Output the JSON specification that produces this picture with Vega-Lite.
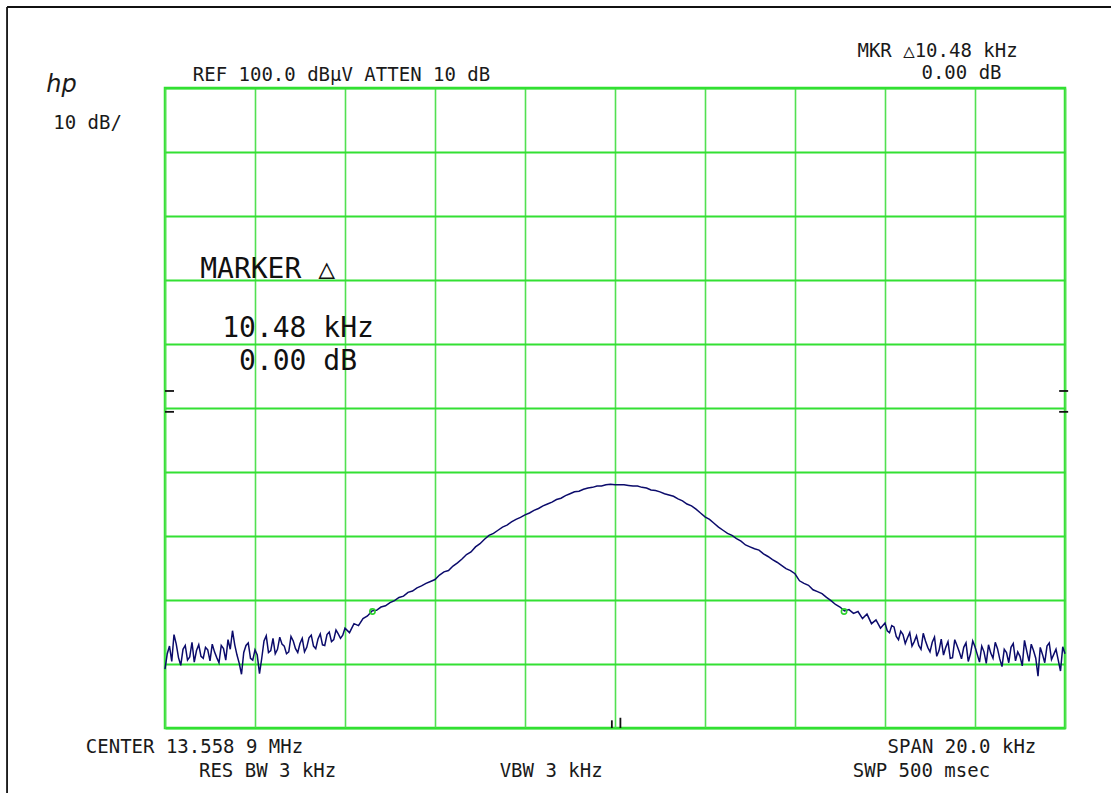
{
  "$schema": "https://vega.github.io/schema/vega-lite/v6.json",
  "width": 900,
  "height": 640,
  "autosize": {"type": "none"},
  "padding": {"left": 165, "top": 88, "right": 46, "bottom": 65},
  "background": "white",
  "config": {
    "view": {"stroke": "#2fe02f", "strokeWidth": 2.5},
    "axisX": {"gridColor": "#52e052", "gridWidth": 1.6, "gridOpacity": 1},
    "axisY": {"gridColor": "#33e033", "gridWidth": 2, "gridOpacity": 1}
  },
  "datasets": {
    "trace": [
      {"x": -10.0, "y": 9.2}, {"x": -9.9, "y": 12.8}, {"x": -9.8, "y": 14.6}, {"x": -9.7, "y": 11.0}, {"x": -9.6, "y": 12.3},
      {"x": -9.5, "y": 10.6}, {"x": -9.4, "y": 13.4}, {"x": -9.3, "y": 12.1}, {"x": -9.2, "y": 11.2}, {"x": -9.1, "y": 12.6},
      {"x": -9.0, "y": 10.5}, {"x": -8.9, "y": 11.9}, {"x": -8.8, "y": 10.2}, {"x": -8.7, "y": 12.4}, {"x": -8.6, "y": 13.8},
      {"x": -8.5, "y": 15.2}, {"x": -8.4, "y": 11.4}, {"x": -8.3, "y": 8.4}, {"x": -8.2, "y": 12.9}, {"x": -8.1, "y": 10.9},
      {"x": -8.0, "y": 12.2}, {"x": -7.9, "y": 8.5}, {"x": -7.8, "y": 13.6}, {"x": -7.7, "y": 11.8}, {"x": -7.6, "y": 14.0},
      {"x": -7.5, "y": 12.3}, {"x": -7.4, "y": 13.1}, {"x": -7.3, "y": 11.6}, {"x": -7.2, "y": 14.3}, {"x": -7.1, "y": 12.4},
      {"x": -7.0, "y": 13.2}, {"x": -6.9, "y": 11.9}, {"x": -6.8, "y": 14.1}, {"x": -6.7, "y": 12.8}, {"x": -6.6, "y": 13.9},
      {"x": -6.5, "y": 13.0}, {"x": -6.4, "y": 14.6}, {"x": -6.3, "y": 13.5}, {"x": -6.2, "y": 15.3}, {"x": -6.1, "y": 14.0},
      {"x": -6.0, "y": 15.6}, {"x": -5.9, "y": 14.9}, {"x": -5.8, "y": 16.3}, {"x": -5.7, "y": 16.0}, {"x": -5.6, "y": 17.1},
      {"x": -5.5, "y": 17.5}, {"x": -5.4, "y": 18.3}, {"x": -5.3, "y": 18.4}, {"x": -5.2, "y": 18.9}, {"x": -5.1, "y": 19.1},
      {"x": -5.0, "y": 19.6}, {"x": -4.9, "y": 19.9}, {"x": -4.8, "y": 20.4}, {"x": -4.7, "y": 20.6}, {"x": -4.6, "y": 21.2},
      {"x": -4.5, "y": 21.4}, {"x": -4.4, "y": 21.9}, {"x": -4.3, "y": 22.2}, {"x": -4.2, "y": 22.6}, {"x": -4.1, "y": 22.9},
      {"x": -4.0, "y": 23.2}, {"x": -3.9, "y": 23.9}, {"x": -3.8, "y": 24.4}, {"x": -3.7, "y": 24.6}, {"x": -3.6, "y": 25.3},
      {"x": -3.5, "y": 25.8}, {"x": -3.4, "y": 26.4}, {"x": -3.3, "y": 27.1}, {"x": -3.2, "y": 27.5}, {"x": -3.1, "y": 28.3},
      {"x": -3.0, "y": 28.8}, {"x": -2.9, "y": 29.5}, {"x": -2.8, "y": 30.1}, {"x": -2.7, "y": 30.4}, {"x": -2.6, "y": 30.9},
      {"x": -2.5, "y": 31.4}, {"x": -2.4, "y": 31.7}, {"x": -2.3, "y": 32.2}, {"x": -2.2, "y": 32.6}, {"x": -2.1, "y": 32.9},
      {"x": -2.0, "y": 33.3}, {"x": -1.9, "y": 33.6}, {"x": -1.8, "y": 34.0}, {"x": -1.7, "y": 34.3}, {"x": -1.6, "y": 34.7},
      {"x": -1.5, "y": 35.0}, {"x": -1.4, "y": 35.3}, {"x": -1.3, "y": 35.7}, {"x": -1.2, "y": 35.9}, {"x": -1.1, "y": 36.3},
      {"x": -1.0, "y": 36.6}, {"x": -0.9, "y": 36.9}, {"x": -0.8, "y": 37.0}, {"x": -0.7, "y": 37.3}, {"x": -0.6, "y": 37.5},
      {"x": -0.5, "y": 37.6}, {"x": -0.4, "y": 37.8}, {"x": -0.3, "y": 37.8}, {"x": -0.2, "y": 38.0}, {"x": -0.1, "y": 38.1},
      {"x": 0.0, "y": 38.0}, {"x": 0.1, "y": 38.0}, {"x": 0.2, "y": 38.0}, {"x": 0.3, "y": 37.9}, {"x": 0.4, "y": 37.8},
      {"x": 0.5, "y": 37.8}, {"x": 0.6, "y": 37.6}, {"x": 0.7, "y": 37.5}, {"x": 0.8, "y": 37.2}, {"x": 0.9, "y": 37.1},
      {"x": 1.0, "y": 36.9}, {"x": 1.1, "y": 36.6}, {"x": 1.2, "y": 36.4}, {"x": 1.3, "y": 36.2}, {"x": 1.4, "y": 35.8},
      {"x": 1.5, "y": 35.5}, {"x": 1.6, "y": 35.0}, {"x": 1.7, "y": 34.7}, {"x": 1.8, "y": 34.2}, {"x": 1.9, "y": 33.6},
      {"x": 2.0, "y": 33.0}, {"x": 2.1, "y": 32.6}, {"x": 2.2, "y": 32.0}, {"x": 2.3, "y": 31.4}, {"x": 2.4, "y": 30.9},
      {"x": 2.5, "y": 30.4}, {"x": 2.6, "y": 30.1}, {"x": 2.7, "y": 29.6}, {"x": 2.8, "y": 29.2}, {"x": 2.9, "y": 28.6},
      {"x": 3.0, "y": 28.3}, {"x": 3.1, "y": 28.0}, {"x": 3.2, "y": 27.8}, {"x": 3.3, "y": 27.2}, {"x": 3.4, "y": 26.8},
      {"x": 3.5, "y": 26.3}, {"x": 3.6, "y": 25.9}, {"x": 3.7, "y": 25.4}, {"x": 3.8, "y": 24.9}, {"x": 3.9, "y": 24.6},
      {"x": 4.0, "y": 24.1}, {"x": 4.1, "y": 23.0}, {"x": 4.2, "y": 22.6}, {"x": 4.3, "y": 22.3}, {"x": 4.4, "y": 21.6},
      {"x": 4.5, "y": 21.3}, {"x": 4.6, "y": 21.0}, {"x": 4.7, "y": 20.4}, {"x": 4.8, "y": 19.9}, {"x": 4.9, "y": 19.3},
      {"x": 5.0, "y": 18.9}, {"x": 5.1, "y": 18.3}, {"x": 5.2, "y": 18.5}, {"x": 5.3, "y": 17.9}, {"x": 5.4, "y": 18.2},
      {"x": 5.5, "y": 17.1}, {"x": 5.6, "y": 17.8}, {"x": 5.7, "y": 16.3}, {"x": 5.8, "y": 16.9}, {"x": 5.9, "y": 15.6},
      {"x": 6.0, "y": 16.4}, {"x": 6.1, "y": 14.9}, {"x": 6.2, "y": 15.8}, {"x": 6.3, "y": 13.8}, {"x": 6.4, "y": 14.6},
      {"x": 6.5, "y": 14.1}, {"x": 6.6, "y": 12.8}, {"x": 6.7, "y": 14.4}, {"x": 6.8, "y": 12.3}, {"x": 6.9, "y": 13.6},
      {"x": 7.0, "y": 11.9}, {"x": 7.1, "y": 14.2}, {"x": 7.2, "y": 12.1}, {"x": 7.3, "y": 11.4}, {"x": 7.4, "y": 13.5},
      {"x": 7.5, "y": 11.0}, {"x": 7.6, "y": 12.9}, {"x": 7.7, "y": 10.8}, {"x": 7.8, "y": 13.3}, {"x": 7.9, "y": 11.6},
      {"x": 8.0, "y": 12.7}, {"x": 8.1, "y": 10.3}, {"x": 8.2, "y": 11.9}, {"x": 8.3, "y": 13.0}, {"x": 8.4, "y": 10.9},
      {"x": 8.5, "y": 12.4}, {"x": 8.6, "y": 9.6}, {"x": 8.7, "y": 11.8}, {"x": 8.8, "y": 12.6}, {"x": 8.9, "y": 10.5},
      {"x": 9.0, "y": 11.2}, {"x": 9.1, "y": 13.7}, {"x": 9.2, "y": 10.4}, {"x": 9.3, "y": 12.1}, {"x": 9.4, "y": 8.1},
      {"x": 9.5, "y": 11.5}, {"x": 9.6, "y": 12.8}, {"x": 9.7, "y": 10.7}, {"x": 9.8, "y": 12.3}, {"x": 9.9, "y": 8.9},
      {"x": 10.0, "y": 11.6},
      {"x": -9.95, "y": 11.6}, {"x": -9.85, "y": 10.4}, {"x": -9.75, "y": 13.1}, {"x": -9.65, "y": 9.8}, {"x": -9.55, "y": 12.9},
      {"x": -9.45, "y": 11.1}, {"x": -9.35, "y": 10.3}, {"x": -9.25, "y": 13.0}, {"x": -9.15, "y": 10.9}, {"x": -9.05, "y": 12.2},
      {"x": -8.95, "y": 13.1}, {"x": -8.85, "y": 11.0}, {"x": -8.75, "y": 12.9}, {"x": -8.65, "y": 10.6}, {"x": -8.55, "y": 12.3},
      {"x": -8.45, "y": 13.0}, {"x": -8.35, "y": 10.1}, {"x": -8.25, "y": 11.8}, {"x": -8.15, "y": 13.3}, {"x": -8.05, "y": 10.6},
      {"x": -7.95, "y": 11.4}, {"x": -7.85, "y": 10.9}, {"x": -7.75, "y": 14.4}, {"x": -7.65, "y": 12.1}, {"x": -7.55, "y": 11.6},
      {"x": -7.45, "y": 14.2}, {"x": -7.35, "y": 12.8}, {"x": -7.25, "y": 11.9}, {"x": -7.15, "y": 13.6}, {"x": -7.05, "y": 11.8},
      {"x": -6.95, "y": 14.0}, {"x": -6.85, "y": 12.6}, {"x": -6.75, "y": 14.5}, {"x": -6.65, "y": 12.4}, {"x": -6.55, "y": 14.7},
      {"x": -6.45, "y": 12.9}, {"x": -6.35, "y": 15.0}, {"x": -6.25, "y": 13.8}, {"x": -6.15, "y": 14.7}, {"x": -6.05, "y": 14.5},
      {"x": 6.05, "y": 15.2}, {"x": 6.15, "y": 16.0}, {"x": 6.25, "y": 14.3}, {"x": 6.35, "y": 15.1}, {"x": 6.45, "y": 13.2},
      {"x": 6.55, "y": 14.9}, {"x": 6.65, "y": 13.5}, {"x": 6.75, "y": 12.9}, {"x": 6.85, "y": 14.8}, {"x": 6.95, "y": 12.6},
      {"x": 7.05, "y": 13.4}, {"x": 7.15, "y": 11.2}, {"x": 7.25, "y": 13.9}, {"x": 7.35, "y": 12.6}, {"x": 7.45, "y": 10.9},
      {"x": 7.55, "y": 13.8}, {"x": 7.65, "y": 11.9}, {"x": 7.75, "y": 12.6}, {"x": 7.85, "y": 10.4}, {"x": 7.95, "y": 13.6},
      {"x": 8.05, "y": 11.5}, {"x": 8.15, "y": 12.8}, {"x": 8.25, "y": 10.1}, {"x": 8.35, "y": 11.7}, {"x": 8.45, "y": 13.4},
      {"x": 8.55, "y": 10.8}, {"x": 8.65, "y": 12.3}, {"x": 8.75, "y": 10.2}, {"x": 8.85, "y": 13.2}, {"x": 8.95, "y": 11.9},
      {"x": 9.05, "y": 9.7}, {"x": 9.15, "y": 12.0}, {"x": 9.25, "y": 13.1}, {"x": 9.35, "y": 10.9}, {"x": 9.45, "y": 12.6},
      {"x": 9.55, "y": 10.2}, {"x": 9.65, "y": 13.3}, {"x": 9.75, "y": 11.5}, {"x": 9.85, "y": 10.6}, {"x": 9.95, "y": 12.7}
    ],
    "markers": [
      {"x": -5.39, "y": 18.2},
      {"x": 5.09, "y": 18.2}
    ],
    "rules": [
      {"x": -13.51, "x2": 11.3, "y": 112.66, "y2": 112.66},
      {"x": -13.51, "x2": -13.51, "y": 112.66, "y2": -10.6},
      {"x": -10.0, "x2": -9.8, "y": 52.66, "y2": 52.66},
      {"x": -10.0, "x2": -9.8, "y": 49.4, "y2": 49.4},
      {"x": 9.87, "x2": 10.07, "y": 52.66, "y2": 52.66},
      {"x": 9.87, "x2": 10.07, "y": 49.4, "y2": 49.4},
      {"x": -0.07, "x2": -0.07, "y": 0, "y2": 1.2},
      {"x": 0.12, "x2": 0.12, "y": 0, "y2": 1.6}
    ],
    "smallText": [
      {"x": -6.078, "y": 101.09, "label": "REF  100.0 dBμV ATTEN 10 dB"},
      {"x": 7.167, "y": 104.85, "label": "MKR △10.48 kHz"},
      {"x": 7.7, "y": 101.41, "label": "0.00 dB"},
      {"x": -11.72, "y": 93.59, "label": "10 dB/"},
      {"x": -9.344, "y": -3.9, "label": "CENTER 13.558 9 MHz"},
      {"x": -7.72, "y": -7.66, "label": "RES BW 3 kHz"},
      {"x": -1.42, "y": -7.66, "label": "VBW 3 kHz"},
      {"x": 7.71, "y": -3.9, "label": "SPAN 20.0 kHz"},
      {"x": 6.81, "y": -7.66, "label": "SWP 500 msec"}
    ],
    "bigText": [
      {"x": -7.72, "y": 70.31, "label": "MARKER △"},
      {"x": -7.044, "y": 61.1, "label": "10.48 kHz"},
      {"x": -7.044, "y": 55.94, "label": "0.00 dB"}
    ],
    "logo": [
      {"x": -12.3, "y": 100.47, "label": "hp"}
    ]
  },
  "encoding": {
    "x": {
      "field": "x",
      "type": "quantitative",
      "scale": {"domain": [-10, 10], "nice": false, "zero": false},
      "axis": {"values": [-10, -8, -6, -4, -2, 0, 2, 4, 6, 8, 10], "grid": true, "labels": false, "ticks": false, "domain": false, "title": null}
    },
    "y": {
      "field": "y",
      "type": "quantitative",
      "scale": {"domain": [0, 100], "nice": false, "zero": false},
      "axis": {"values": [0, 10, 20, 30, 40, 50, 60, 70, 80, 90, 100], "grid": true, "labels": false, "ticks": false, "domain": false, "title": null}
    }
  },
  "layer": [
    {
      "data": {"name": "trace"},
      "mark": {"type": "line", "color": "#0b0b6b", "strokeWidth": 1.5, "interpolate": "linear"}
    },
    {
      "data": {"name": "markers"},
      "mark": {"type": "point", "shape": "circle", "filled": false, "size": 28, "stroke": "#2bd12b", "strokeWidth": 1.6, "opacity": 1}
    },
    {
      "data": {"name": "rules"},
      "mark": {"type": "rule", "color": "#111111", "strokeWidth": 1.8},
      "encoding": {
        "x2": {"field": "x2"},
        "y2": {"field": "y2"}
      }
    },
    {
      "data": {"name": "smallText"},
      "mark": {"type": "text", "font": "DejaVu Sans Mono", "fontSize": 19, "align": "center", "baseline": "alphabetic", "color": "#1a1a1a"},
      "encoding": {"text": {"field": "label"}}
    },
    {
      "data": {"name": "bigText"},
      "mark": {"type": "text", "font": "DejaVu Sans Mono", "fontSize": 28, "align": "center", "baseline": "alphabetic", "color": "#111111"},
      "encoding": {"text": {"field": "label"}}
    },
    {
      "data": {"name": "logo"},
      "mark": {"type": "text", "font": "DejaVu Sans", "fontStyle": "italic", "fontSize": 24, "align": "center", "baseline": "middle", "color": "#1a1a1a"},
      "encoding": {"text": {"field": "label"}}
    }
  ]
}
